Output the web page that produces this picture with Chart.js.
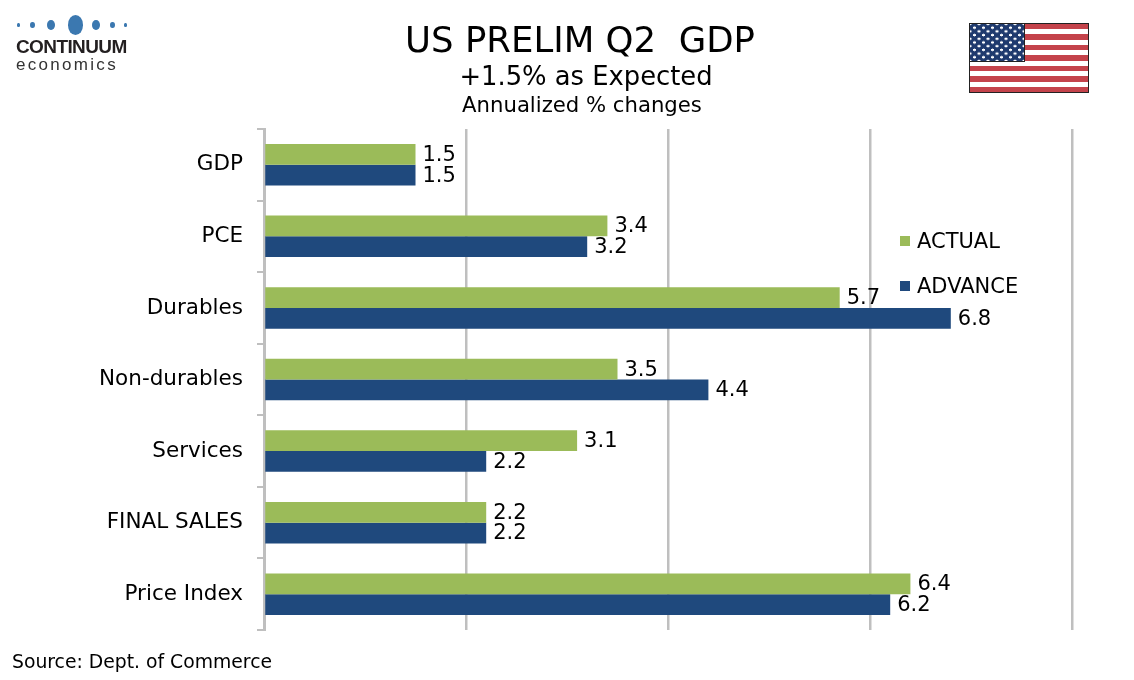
<!DOCTYPE html>
<html>
<head>
<meta charset="utf-8">
<script src="https://cdn.jsdelivr.net/npm/chart.js@4.4.0/dist/chart.umd.min.js"></script>
<style>
  html, body { margin: 0; padding: 0; background: #fff; }
  #wrap { position: relative; width: 1134px; height: 680px; overflow: hidden; font-family: "DejaVu Sans", Verdana, sans-serif; }
  #chart { position: absolute; left: 0; top: 0; }
  .titles { position: absolute; left: 380px; width: 400px; text-align: center; color: #000; white-space: pre; }
  #t1 { top: 19px; font-size: 35.5px; }
  #t2 { top: 61px; font-size: 25.8px; left: 386px; }
  #t3 { top: 92px; font-size: 21.2px; left: 382px; }
  #source { position: absolute; left: 12px; top: 651px; font-size: 18.8px; color: #000; }
  #legend { position: absolute; left: 900px; top: 227px; font-size: 21px; }
  #legend .item { position: relative; height: 45px; line-height: 28px; padding-left: 17px; }
  #legend .sw { position: absolute; left: 0; top: 9px; width: 10px; height: 10px; }
  /* logo */
  #logo { position: absolute; left: 16px; top: 15px; width: 115px; }
  #dots { position: relative; height: 20px; }
  #dots span { position: absolute; background: #3b78b0; border-radius: 50%; }
  #logo .brand { font-family: "Liberation Sans", Arial, sans-serif; font-weight: bold; font-size: 19px; color: #231f20; letter-spacing: -0.6px; line-height: 20px; margin-top: 2px; }
  #logo .sub { font-family: "Liberation Sans", Arial, sans-serif; font-size: 17px; color: #333; letter-spacing: 2.3px; line-height: 16px; }
  /* flag */
  #flag { position: absolute; left: 969px; top: 23px; width: 118px; height: 68px; border: 1px solid #222;
    background: repeating-linear-gradient(to bottom, #c4434b 0, #c4434b 5.23px, #fff 5.23px, #fff 10.46px); }
  #canton { position: absolute; left: 0; top: 0; width: 54px; height: 37px; background-color: #1f3a6e; border-right: 1px solid #222; border-bottom: 1px solid #222;
    background-image: radial-gradient(circle, #fff 1.2px, transparent 1.5px), radial-gradient(circle, #fff 1.2px, transparent 1.5px);
    background-size: 9px 7.4px; background-position: 0 0, 4.5px 3.7px; }
</style>
</head>
<body>
<div id="wrap">
  <canvas id="chart" width="1134" height="680"></canvas>
  <div id="logo">
    <div id="dots"></div>
    <div class="brand">CONTINUUM</div>
    <div class="sub">economics</div>
  </div>
  <div class="titles" id="t1">US PRELIM Q2  GDP</div>
  <div class="titles" id="t2">+1.5% as Expected</div>
  <div class="titles" id="t3">Annualized % changes</div>
  <div id="flag"><div id="canton"></div></div>
  <div id="legend"></div>
  <div id="source">Source: Dept. of Commerce</div>
</div>
<script>
// data
const categories = ['GDP', 'PCE', 'Durables', 'Non-durables', 'Services', 'FINAL SALES', 'Price Index'];
const actual = [1.5, 3.4, 5.7, 3.5, 3.1, 2.2, 6.4];
const advance = [1.5, 3.2, 6.8, 4.4, 2.2, 2.2, 6.2];
const xMin = 0;
const xMax = 8;
const xStep = 2;

const green = '#9bbb59';
const navy = '#1f497d';
const gridGray = '#bfbfbf';

// logo dots
const dotSpec = [[1, 2.5], [14, 5], [31, 8], [52, 15], [76, 8], [94, 5], [108, 2.5]];
dotSpec.forEach(d => {
    const s = document.createElement('span');
    s.style.left = d[0] + 'px';
    s.style.width = d[1] + 'px';
    s.style.height = (d[1] * 1.3) + 'px';
    s.style.top = (10 - d[1] * 0.65) + 'px';
    document.getElementById('dots').appendChild(s);
});

// value labels at the end of each bar
const valueLabels = {
    id: 'valueLabels',
    afterDatasetsDraw(chart) {
        const ctx = chart.ctx;
        ctx.save();
        ctx.font = '21px "DejaVu Sans", Verdana, sans-serif';
        ctx.fillStyle = '#000';
        ctx.textAlign = 'left';
        ctx.textBaseline = 'middle';
        chart.data.datasets.forEach((ds, i) => {
            chart.getDatasetMeta(i).data.forEach((bar, j) => {
                ctx.fillText(ds.data[j].toFixed(1), bar.x + 7, bar.y + 1);
            });
        });
        ctx.restore();
    }
};

const datasets = [
    { label: 'ACTUAL', data: actual, backgroundColor: green },
    { label: 'ADVANCE', data: advance, backgroundColor: navy }
];

new Chart(document.getElementById('chart'), {
    type: 'bar',
    data: { labels: categories, datasets: datasets },
    options: {
        indexAxis: 'y',
        responsive: false,
        animation: false,
        layout: { padding: { top: 129, left: 0, right: 62, bottom: 50 } },
        datasets: { bar: { categoryPercentage: 0.58, barPercentage: 1.0 } },
        scales: {
            x: {
                min: xMin,
                max: xMax,
                ticks: { display: false, stepSize: xStep },
                grid: { color: gridGray, lineWidth: 2.5, drawTicks: false },
                border: { display: false },
                afterFit(scale) { scale.height = 0; }
            },
            y: {
                ticks: { color: '#000', font: { family: '"DejaVu Sans", Verdana, sans-serif', size: 21.5 }, padding: 14 },
                grid: { offset: true, drawOnChartArea: false, drawTicks: true, tickLength: 7, color: gridGray, lineWidth: 2 },
                border: { display: true, color: gridGray, width: 3 },
                afterFit(scale) { scale.width = 264; }
            }
        },
        plugins: {
            legend: { display: false },
            tooltip: { enabled: false }
        }
    },
    plugins: [valueLabels]
});

// legend
const legend = document.getElementById('legend');
datasets.forEach(ds => {
    const item = document.createElement('div');
    item.className = 'item';
    item.innerHTML = '<span class="sw" style="background:' + ds.backgroundColor + '"></span>' + ds.label;
    legend.appendChild(item);
});
</script>
</body>
</html>
